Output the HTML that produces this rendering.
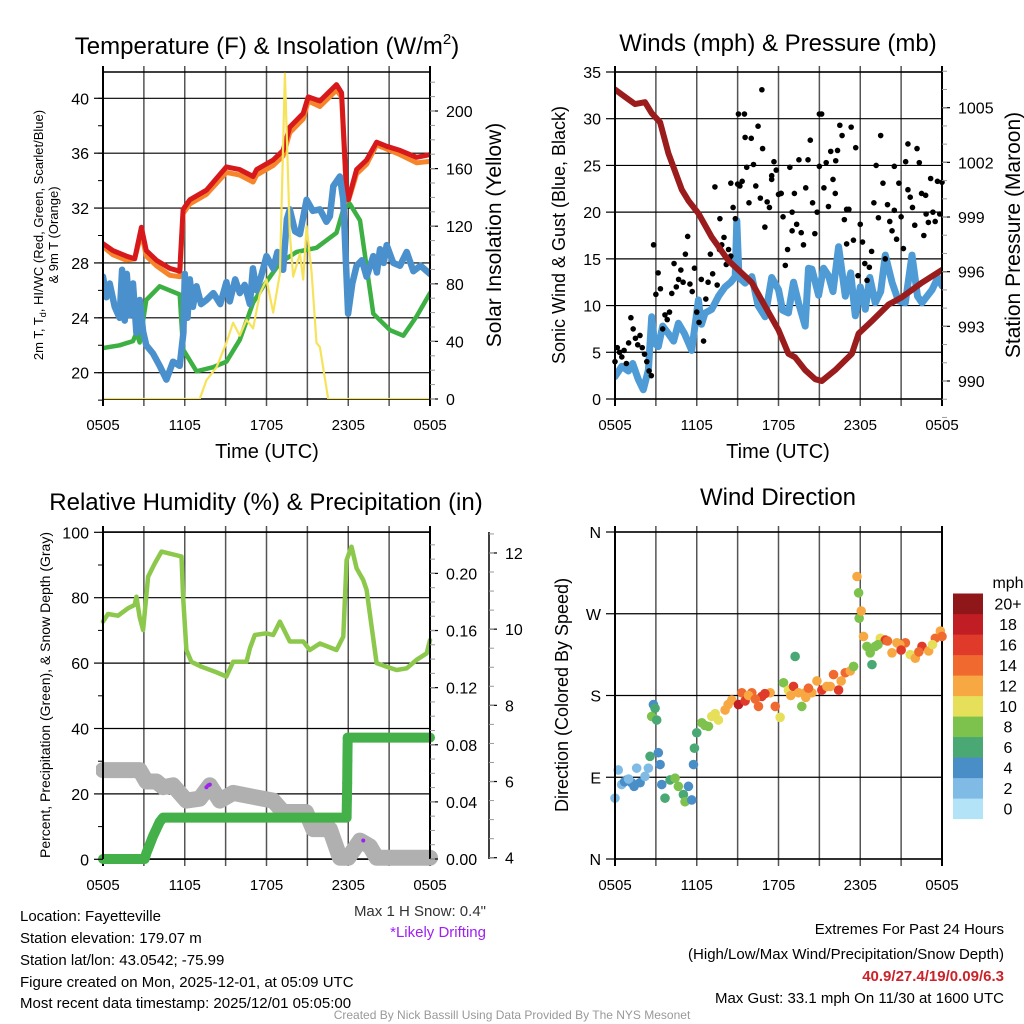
<!DOCTYPE html>
<html><head><meta charset="utf-8"><style>
html,body{margin:0;padding:0;background:#fff;}
svg{display:block;font-family:"Liberation Sans",sans-serif;}
</style></head><body>
<svg id="root" width="1024" height="1024" viewBox="0 0 1024 1024" xmlns="http://www.w3.org/2000/svg">
<defs>
<clipPath id="c1"><rect x="103" y="72" width="327" height="327"/></clipPath>
<clipPath id="c2"><rect x="615" y="72" width="327" height="327"/></clipPath>
<clipPath id="c3"><rect x="96" y="520" width="342" height="352"/></clipPath>
<clipPath id="c4"><rect x="608" y="520" width="342" height="350"/></clipPath>
</defs>
<g id="g-grid"></g>
<g id="g-data"></g>
<g id="g-axes"></g>

<text x="267" y="54" font-size="24" text-anchor="middle">Temperature (F) &amp; Insolation (W/m<tspan font-size="15" dy="-10">2</tspan><tspan dy="10">)</tspan></text>
<text x="778" y="51" font-size="24" text-anchor="middle">Winds (mph) &amp; Pressure (mb)</text>
<text x="266" y="510" font-size="24" text-anchor="middle">Relative Humidity (%) &amp; Precipitation (in)</text>
<text x="778" y="505" font-size="24" text-anchor="middle">Wind Direction</text>

<text transform="translate(43,235) rotate(-90)" font-size="13" text-anchor="middle">2m T, T<tspan font-size="9" dy="3">d</tspan><tspan dy="-3">, HI/WC (Red, Green, Scarlet/Blue)</tspan></text>
<text transform="translate(58,235) rotate(-90)" font-size="13" text-anchor="middle">&amp; 9m T (Orange)</text>
<text transform="translate(501,235) rotate(-90)" font-size="21" text-anchor="middle">Solar Insolation (Yellow)</text>
<text transform="translate(565,235) rotate(-90)" font-size="18" text-anchor="middle">Sonic Wind &amp; Gust (Blue, Black)</text>
<text transform="translate(1020,235) rotate(-90)" font-size="21" text-anchor="middle">Station Pressure (Maroon)</text>
<text transform="translate(50,695) rotate(-90)" font-size="14" text-anchor="middle">Percent, Precipitation (Green), &amp; Snow Depth (Gray)</text>
<text transform="translate(568,695) rotate(-90)" font-size="18" text-anchor="middle">Direction (Colored By Speed)</text>
<text x="267" y="458" font-size="20" text-anchor="middle">Time (UTC)</text>
<text x="778" y="458" font-size="20" text-anchor="middle">Time (UTC)</text>

<g font-size="15">
<text x="20" y="921">Location: Fayetteville</text>
<text x="20" y="943">Station elevation: 179.07 m</text>
<text x="20" y="965">Station lat/lon: 43.0542; -75.99</text>
<text x="20" y="987">Figure created on Mon, 2025-12-01, at 05:09 UTC</text>
<text x="20" y="1008">Most recent data timestamp: 2025/12/01 05:05:00</text>
</g>
<text x="486" y="916" font-size="15" fill="#333" text-anchor="end">Max 1 H Snow: 0.4"</text>
<text x="486" y="937" font-size="15" fill="#a020f0" text-anchor="end">*Likely Drifting</text>
<g font-size="15" text-anchor="end">
<text x="1004" y="934">Extremes For Past 24 Hours</text>
<text x="1004" y="959">(High/Low/Max Wind/Precipitation/Snow Depth)</text>
<text x="1004" y="981" fill="#cc2229" font-weight="bold">40.9/27.4/19/0.09/6.3</text>
<text x="1004" y="1003">Max Gust: 33.1 mph On 11/30 at 1600 UTC</text>
</g>
<text x="512" y="1019" font-size="12" fill="#999" text-anchor="middle">Created By Nick Bassill Using Data Provided By The NYS Mesonet</text>
</svg>
<script>
// ---------- data ----------
const timeLabels = ["0505","1105","1705","2305","0505"];
const redT = [0,0.73,1.71,2.33,2.82,3.18,3.92,4.9,5.63,5.88,6.37,7.59,9.06,10.04,11.02,11.27,12.49,13.22,13.71,14.69,15.06,15.92,17.14,17.51,17.88,18.0,18.61,19.35,20.08,20.82,21.8,23.02,24];
const redV = [29.4,28.9,28.5,28.3,30.6,28.9,28.2,27.6,27.4,31.9,32.6,33.3,35.0,34.8,34.3,34.8,35.5,36.2,37.9,38.9,40.1,39.8,41.0,40.4,33.1,32.6,34.8,35.5,36.8,36.5,36.2,35.7,35.9];
const orgV = [29.2,28.6,28.2,28.3,30.2,28.5,27.8,27.1,27.0,31.6,32.3,33.0,34.6,34.4,33.9,34.4,35.1,35.8,37.5,38.5,39.8,39.4,40.6,40.1,32.8,32.5,34.5,35.2,36.6,36.3,35.9,35.3,35.4];
const dewT = [0,1.22,2.2,2.45,2.69,3.18,4.16,5.63,5.88,6.86,8.08,9.06,10.04,11.02,11.76,12.98,14.2,15.67,17.14,17.64,18.12,18.86,19.84,21.07,22.04,23.02,24];
const dewV = [21.8,22.0,22.3,22.9,22.2,25.3,26.3,25.7,21.7,20.1,20.4,20.8,22.4,25.1,26.3,28.0,28.8,29.1,30.2,31.9,32.3,31.1,24.3,23.1,22.7,24.1,25.8];
const wcT = [0,0.25,0.49,0.86,1.22,1.4,1.59,1.75,1.96,2.2,2.45,2.69,2.94,3.18,3.67,4.16,4.65,5.14,5.63,5.9,6.0,6.2,6.37,6.6,6.86,7.2,7.59,8.1,8.6,9.06,9.31,9.7,10.04,10.4,10.78,11.0,11.27,11.6,12.0,12.49,12.8,13.22,13.5,13.71,14.1,14.45,14.94,15.4,15.92,16.4,16.65,16.9,17.39,17.64,17.99,18.3,18.61,19.0,19.35,19.84,20.1,20.33,20.6,20.82,21.3,21.8,22.29,22.78,23.3,24];
const wcV = [27.0,25.5,26.5,24.8,24.0,27.5,23.8,27.2,24.2,26.5,22.9,25.3,23.0,22.0,21.4,20.5,19.5,20.8,20.5,22.9,27.2,24.0,26.8,24.8,26.3,25.0,25.3,25.8,25.0,26.6,25.2,26.8,25.8,26.4,25.0,27.6,26.0,27.0,28.5,27.6,28.8,27.5,31.2,31.9,30.3,30.1,32.6,31.8,31.9,31.0,31.4,33.6,34.3,32.6,24.3,26.5,27.8,28.2,27.0,28.5,27.3,29.0,28.0,29.3,28.0,27.8,28.8,27.4,27.8,27.2];
const solT = [0,7.1,7.59,8.33,9.06,9.55,10.04,10.53,11.02,11.51,12.0,12.49,12.98,13.35,13.71,13.96,14.45,14.69,14.94,15.31,15.67,15.92,16.53,24];
const solV = [0,0,13,22,39,53,44,55,49,73,83,60,87,226,115,85,101,83,120,88,39,36,0,0];
const presT = [0,0.73,1.47,2.2,2.69,3.31,3.92,4.9,5.39,6.12,7.1,8.33,9.06,10.04,11.02,12.0,12.73,13.22,13.96,14.69,15.18,16.16,17.39,17.88,18.86,20.08,21.06,22.53,24];
const presV = [1006.0,1005.6,1005.2,1005.3,1004.7,1004.2,1002.5,1000.5,999.9,999.2,997.9,996.6,996.1,995.4,994.1,992.8,991.5,991.3,990.6,990.1,990.0,990.6,991.5,992.6,993.3,994.2,994.6,995.4,996.1];
const windT = [0,0.5,0.98,1.3,1.71,2.08,2.45,2.69,2.9,3.18,3.5,3.92,4.3,4.65,5.1,5.63,6.12,6.35,6.61,7.1,7.6,8.08,8.5,8.82,8.94,9.1,9.55,10.04,10.5,11.02,11.5,12.0,12.3,12.73,13.1,13.47,13.96,14.2,14.45,14.94,15.3,15.67,16.0,16.41,16.9,17.3,17.64,18.0,18.37,18.7,19.1,19.5,19.84,20.33,20.8,21.31,21.8,22.2,22.53,23.27,23.7,24];
const windV = [2.4,3.5,3.0,3.8,2.1,1.0,3.1,8.8,6.0,5.6,7.8,7.0,6.2,8.1,7.0,5.2,10.6,8.0,9.2,9.6,11.0,12.0,12.5,13.1,19.1,13.0,12.4,13.1,10.0,8.8,13.0,11.7,9.5,9.2,12.5,10.3,7.8,14.0,13.9,11.1,14.0,13.2,11.5,16.3,11.0,13.5,8.9,12.0,9.6,13.0,10.3,11.5,15.4,12.5,10.5,10.3,15.4,11.0,10.3,11.7,13.0,12.1];
const gustV = [4,5.5,5,4.5,5.2,3.8, 6,8.7,7.5,6.5,5.8,6.8, 5.5,4.8,4,3,2.5,16.5, 11.2,13.5,11.8,7.5,9,8.5, 9.3,11.3,14.5,12,12.8,13.8, 12.5,15.5,17.4,12.3,11.5,14, 9.3,8.2,12.8,6.2,10.7,12.5, 15.5,13.4,22.7,12.2,16,16.5, 17.3,14.4,16,15.3,20.5,19.3, 23,22.8,23.3,30.5,24.8,21, 27.9,25.1,22.8,29.2,21.5,26.8, 18.4,21.1,20.5,23.9,25.4,24.5, 21.9,22,19.5,14.3,16,24.8, 20,22,18.7,25.6,17.8,16.5, 22.6,25.6,27.7,21,17.7,20, 24.9,30.5,22.6,25.3,20.6,26.5, 23.5,22,26.6,29.3,28.2,19.2, 16.6,20.3,29.1,17,26.9,13.2, 18.7,16.8,14.5,12.7,14.1,15.8, 21,25,19.4,28.2,23.1,15, 20.8,19,18,20.2,17.1,23.1, 19.5,16.1,25.4,27.3,21.6,20.5, 18.6,26.8,25.3,22,17.5,19.8, 18.9,23.6,20,19,23.3,19.8, 23.2];
const gustExtraT = [9.06,9.55,10.78,15.0,7.7,8.5,11.5,12.2,13.0,16.2,17.0,20.5,21.5,22.8];
const gustExtraV = [30.5,28.0,33.1,30.5,19.3,23.1,23.5,22.0,18.0,25.5,20.3,24.9,22.4,21.8];
const rhT = [0,0.37,1.1,1.84,2.33,2.45,2.69,2.94,3.31,3.8,4.29,5.76,5.88,6.12,6.49,7.22,8.2,9.06,9.55,10.53,10.78,11.14,11.98,12.49,12.98,13.71,14.69,15.18,15.92,17.14,17.64,17.88,18.24,18.61,19.1,19.35,20.08,20.82,21.55,22.29,23.02,23.76,24];
const rhV = [72.7,75,74.5,76.8,77.8,80.3,74,70.1,86.4,90.5,94.1,92.6,80.3,64,60.4,58.9,57.4,55.9,60.4,60.4,64.5,68.6,69.1,68.6,72.7,66.6,66.6,64,66,64,68.1,91.5,95.6,89,85.4,82.4,60,58.9,57.9,58.4,61,63,67];
const precT = [0,3.06,3.18,3.43,3.67,3.92,4.16,4.41,17.88,17.9,17.92,17.94,17.96,24];
const precV = [0,0,0.004,0.01,0.016,0.021,0.026,0.029,0.029,0.042,0.053,0.069,0.085,0.085];
const snowT = [0,2.69,3.18,3.92,4.41,5.14,6.12,7.1,7.84,8.57,9.55,11.02,12.49,13.22,14.9,15.43,16.65,17.39,18.0,18.86,19.59,20.08,24];
const snowV = [6.3,6.3,6.0,6.0,5.85,5.9,5.5,5.55,5.9,5.5,5.7,5.6,5.5,5.2,5.2,4.75,4.75,4.0,4.0,4.45,4.3,4.0,4.0];
const driftT = [7.59,7.72,7.84,19.1];
const driftV = [5.85,5.9,5.92,4.45];
const dirT = [0,0.24,0.49,0.86,1.22,1.59,1.84,2.2,2.45,2.57,2.69,2.82,2.94,3.06,3.18,3.31,3.43,3.67,4.04,4.41,4.65,5.02,5.14,5.39,5.63,5.76,5.83,6.0,6.37,6.86,7.1,7.59,8.08,8.57,9.06,9.31,9.55,10.04,10.53,10.78,11.39,11.76,12.12,12.37,12.73,13.1,13.22,13.47,13.71,13.96,14.45,14.82,15.18,15.55,16.04,16.41,16.9,17.27,17.51,17.76,17.88,17.92,18.07,18.24,18.49,18.73,18.86,19.1,19.47,19.84,20.33,20.69,21.31,21.67,22.04,22.53,23.02,23.51,23.88,24, 0.7,1.0,1.4,6.6,7.35,8.3,9.8,10.3,11.0,12.9,14.0,14.2,15.8,16.6,19.3,20.0,20.9,21.0,22.3,23.3];
const dirV = [67,98,82,87,84,100,84,91,100,113,157,170,166,153,117,104,82,67,87,89,80,71,63,80,65,104,122,139,150,146,157,153,164,175,170,183,174,183,168,179,183,168,156,194,186,190,223,183,168,183,183,196,186,190,203,186,205,207,212,311,293,265,273,245,234,227,214,234,243,241,227,238,238,225,221,234,229,243,251,245, 85,88,80,147,160,170,180,176,182,180,178,188,190,196,236,240,236,230,228,236];
const dirS = [2,2,2,4,4,2,4,2,2,6,8,4,6,6,4,4,4,6,6,8,8,6,8,4,4,4,6,6,8,8,10,10,12,12,18,14,16,14,14,16,12,14,10,8,10,16,6,12,8,12,12,12,16,12,14,16,14,12,8,12,8,8,12,12,8,8,6,8,10,16,12,12,14,10,12,16,12,14,12,14, 4,2,4,8,10,12,12,14,16,12,12,14,12,12,8,14,12,16,14,10];
const legendLabels = ["0","2","4","6","8","10","12","14","16","18","20+"];
const binColors = ["#b3e3f7","#7fbbe4","#4a8ec8","#4aa874","#7cc24d","#e5df5a","#f7a843","#f06a2f","#e03b2a","#c01d24","#8f1619"];

// ---------- axes ----------
const NS="http://www.w3.org/2000/svg";
function mk(tag,attrs,parent){const e=document.createElementNS(NS,tag);for(const k in attrs)e.setAttribute(k,attrs[k]);parent.appendChild(e);return e;}
const gGrid=document.getElementById('g-grid'),gData=document.getElementById('g-data'),gAx=document.getElementById('g-axes');
const xL=h=>103+h*327/24, xR=h=>615+h*327/24;
const yT=v=>372.7-(v-20)*13.72, yS=v=>399-v*1.44;
const yW=v=>399-v*9.343, yP=v=>381-(v-990)*18.22;
const yRH=v=>859.3-v*3.27, yPr=v=>859-v*1428, ySn=v=>857.7-(v-4)*38.09;
const yD=v=>859-v*327/360;

function line(x1,y1,x2,y2,stroke,w,parent){return mk('line',{x1,y1,x2,y2,stroke,'stroke-width':w},parent);}
function label(x,y,txt,anchor,size,parent){const t=mk('text',{x,y,'font-size':size,'text-anchor':anchor},parent);t.textContent=txt;return t;}

function panel(x0,top,bot,xf,name){
  const g=mk('g',{},gGrid);
  
  
  for(let h=0;h<=24;h+=3){line(xf(h),top-6,xf(h),bot+7,h%24===0?'#000':'#555',h%24===0?2:1.5,g);}
  line(x0,top,x0+327,top,'#000',1.5,g);line(x0,bot,x0+327,bot,'#000',1.5,g);
  const ga=mk('g',{},gAx);
  
  
  timeLabels.forEach((s,i)=>label(xf(i*6),bot+31,s,'middle',15,ga));
}
function leftAxis(x0,vals,yf,labs,name,minor,grid){
  const g=mk('g',{},gAx);
  
  
  vals.forEach((v,i)=>{const y=yf(v);if(grid)line(x0,y,x0+327,y,'#000',1.2,gGrid);line(x0-9,y,x0,y,'#000',1.2,g);label(x0-14,y+6,labs[i],'end',16,g);});
  (minor||[]).forEach(v=>line(x0-5,yf(v),x0,yf(v),'#000',1,g));
}
function rightAxis(x,vals,yf,labs,name,minor){
  const g=mk('g',{},gAx);
  
  
  vals.forEach((v,i)=>{const y=yf(v);line(x,y,x+8,y,'#000',1.2,g);label(x+16,y+6,labs[i],'start',16,g);});
  (minor||[]).forEach(v=>line(x,yf(v),x+5,yf(v),'#999',1,g));
}
function path(xs,ys,xf,yf,color,w,clip,name){
  let d='';xs.forEach((t,i)=>{d+=(i?'L':'M')+xf(t).toFixed(1)+','+yf(ys[i]).toFixed(1);});
  const p=mk('path',{d,fill:'none',stroke:color,'stroke-width':w,'stroke-linejoin':'round','stroke-linecap':'round','clip-path':'url(#'+clip+')'},gData);
  
  
  return p;
}
function range(a,b,s){const r=[];for(let v=a;v<=b+1e-9;v+=s)r.push(+v.toFixed(3));return r;}

// Panel 1
panel(103,72,399,xL,'temp');
leftAxis(103,[20,24,28,32,36,40],yT,["20","24","28","32","36","40"],'temp-left-axis',range(18,41,2),true);
line(103,72,103,399,'#000',2,gAx);line(430,72,430,399,'#000',2,gAx);
rightAxis(430,[0,40,80,120,160,200],yS,["0","40","80","120","160","200"],'insolation-right-axis',range(0,220,10));
path(redT,orgV,xL,yT,'#f5842b',5,'c1','temp-9m-line');
path(redT,redV,xL,yT,'#d7191c',5,'c1','temp-2m-line');
path(dewT,dewV,xL,yT,'#3cb043',4.5,'c1','dewpoint-line');
path(wcT,wcV,xL,yT,'#4a90cc',6.5,'c1','windchill-line');
path(solT,solV,xL,yS,'#f7e35a',2.2,'c1','insolation-line');

// Panel 2
panel(615,72,399,xR,'wind');
leftAxis(615,[0,5,10,15,20,25,30,35],yW,["0","5","10","15","20","25","30","35"],'wind-left-axis',null,true);
line(615,72,615,399,'#000',2,gAx);line(942,72,942,399,'#000',2,gAx);
rightAxis(942,[990,993,996,999,1002,1005],yP,["990","993","996","999","1002","1005"],'pressure-right-axis',range(988,1007,1));
path(windT,windV,xR,yW,'#4f9bd5',7,'c2','wind-speed-line');
const gg=mk('g',{},gData);


gustV.forEach((v,i)=>{const c=mk('circle',{cx:xR(i/6),cy:yW(v),r:2.8,fill:'#000'},gg);

});
gustExtraT.forEach((t,i)=>{const c=mk('circle',{cx:xR(t),cy:yW(gustExtraV[i]),r:2.8,fill:'#000'},gg);

});
path(presT,presV,xR,yP,'#9b1c1c',6,'c2','pressure-line');

// Panel 3
panel(103,532,859,xL,'rh');
leftAxis(103,[0,20,40,60,80,100],yRH,["0","20","40","60","80","100"],'rh-left-axis',range(10,90,20),true);
line(103,532,103,859,'#000',2,gAx);line(430,532,430,859,'#000',2,gAx);
rightAxis(430,[0,0.04,0.08,0.12,0.16,0.20],yPr,["0.00","0.04","0.08","0.12","0.16","0.20"],'precip-right-axis',range(0,0.22,0.01));
line(489,532,489,859,'#000',1.5,gAx);
rightAxis(489,[4,6,8,10,12],ySn,["4","6","8","10","12"],'snow-depth-axis',range(4,12.5,0.5));
path(snowT,snowV,xL,ySn,'#b0b0b0',16,'c3','snow-depth-line');
path(rhT,rhV,xL,yRH,'#8cc84b',4.5,'c3','rh-line');
path(precT,precV,xL,yPr,'#44b04a',10,'c3','precip-line');
const gpr=mk('g',{},gData);


precT.forEach((t,i)=>{if(t>17.8&&t<18){const c=mk('circle',{cx:xL(t),cy:yPr(precV[i]),r:5,fill:'#44b04a'},gpr);

}});
const gdr=mk('g',{},gData);


driftT.forEach((t,i)=>{const c=mk('circle',{cx:xL(t),cy:ySn(driftV[i]),r:2,fill:'#a020f0'},gdr);

});

// Panel 4
panel(615,532,859,xR,'dir');
leftAxis(615,[0,90,180,270,360],yD,["N","E","S","W","N"],'dir-left-axis',null,true);
line(615,532,615,859,'#000',2,gAx);
const gd=mk('g',{},gData);


dirT.forEach((t,i)=>{const b=Math.min(10,Math.floor(dirS[i]/2));const c=mk('circle',{cx:xR(t),cy:yD(dirV[i]),r:4.8,fill:binColors[b]},gd);

});
const gl=mk('g',{},gAx);


label(1008,588,'mph','middle',16,gl);
binColors.forEach((c,i)=>{const y=819-(i+1)*20.5;const r=mk('rect',{x:953,y:y,width:30,height:20.6,fill:c},gl);


label(1008,y+16,legendLabels[i],'middle',16,gl);});
</script>
</body></html>
